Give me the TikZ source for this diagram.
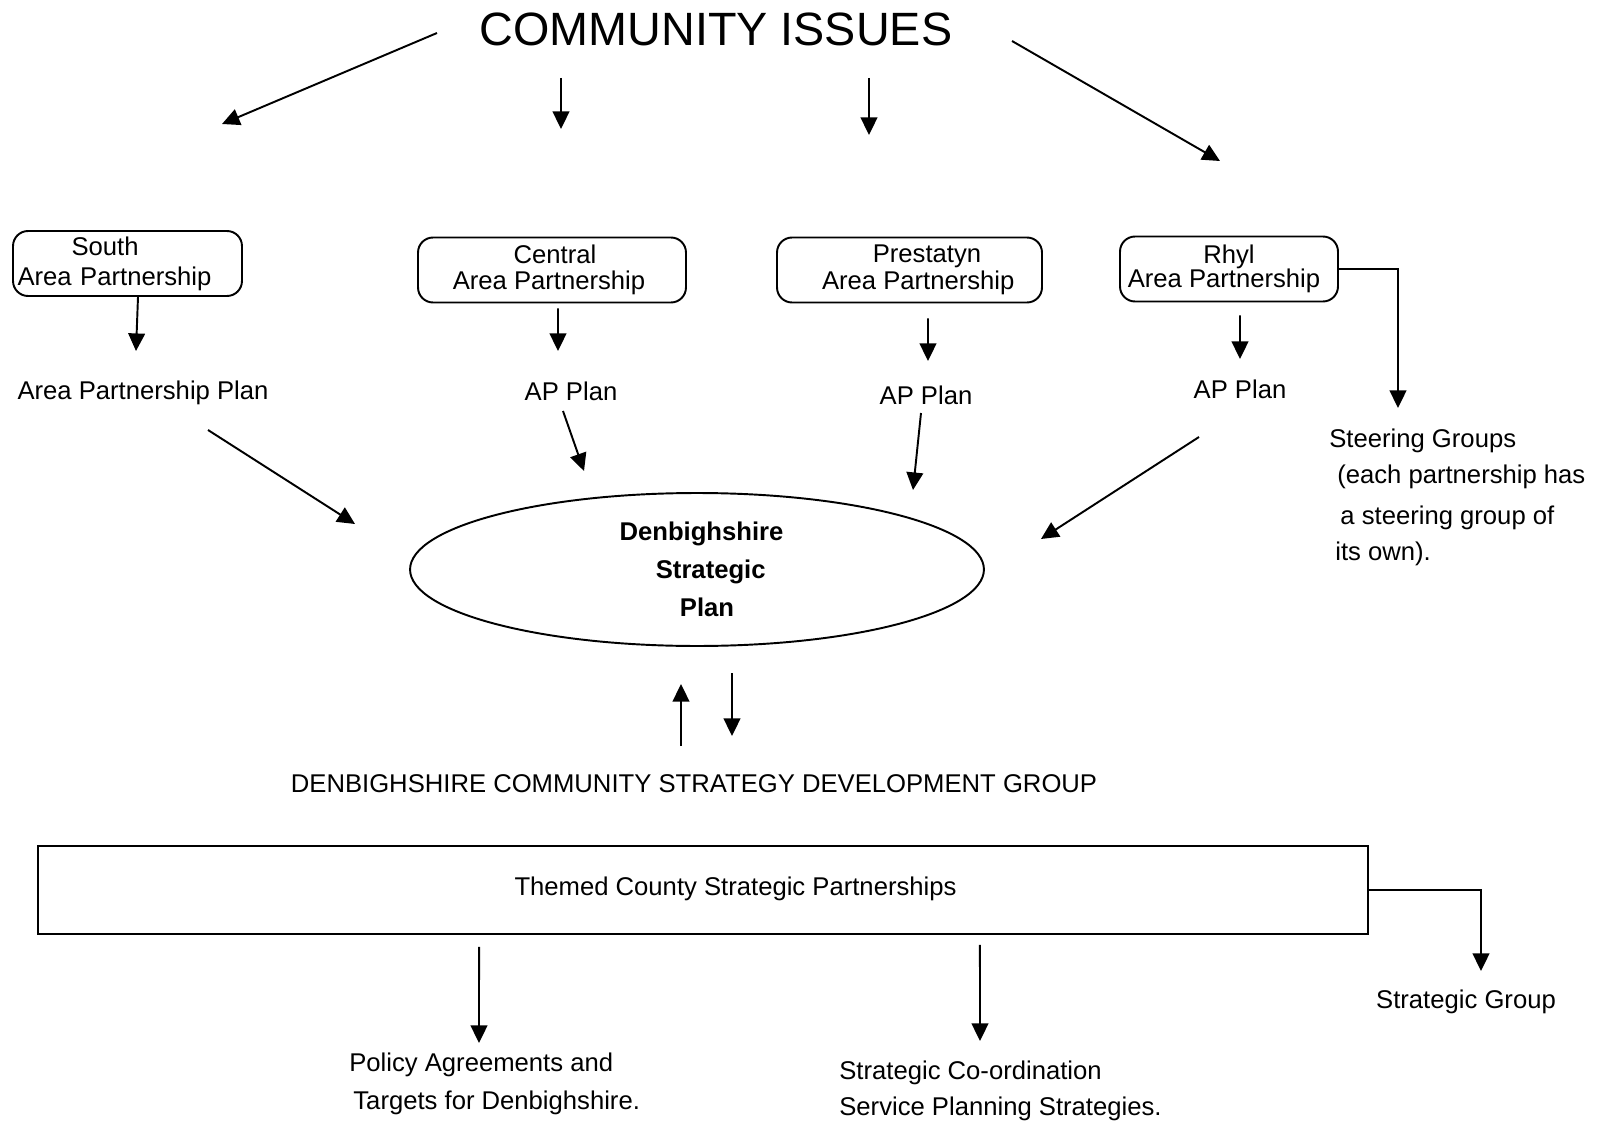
\documentclass[tikz,border=0pt]{standalone}
\usepackage{fontspec}
\setmainfont{Liberation Sans}
\usetikzlibrary{arrows.meta, shapes.geometric}

\begin{document}
\begin{tikzpicture}[
    x=0.02cm, y=-0.02cm,
    txt/.style={font=\fontsize{14.6}{16.8}\selectfont, inner sep=0pt},
    areabox/.style={rectangle, rounded corners=0.3cm, draw, line width=1.1pt, minimum height=1.3cm, align=center, font=\fontsize{14.6}{15.2}\selectfont, inner sep=0pt},
    arr/.style={-{Triangle[length=10pt, width=9.5pt]}, line width=1.1pt},
]
\useasboundingbox (0,0) rectangle (1600,1122);

% --- title ---
\node[inner sep=0pt, font=\fontsize{26.6}{30}\selectfont] (issues) at (716,29) {COMMUNITY ISSUES};

\coordinate (t1s) at (437,33);   \coordinate (t1e) at (222,124);
\coordinate (t2s) at (561,78);   \coordinate (t2e) at (561,129);
\coordinate (t3s) at (869,78);   \coordinate (t3e) at (869,135);
\coordinate (t4s) at (1012,41);  \coordinate (t4e) at (1220,161);
\draw[arr] (t1s) -- (t1e);
\draw[arr] (t2s) -- (t2e);
\draw[arr] (t3s) -- (t3e);
\draw[arr] (t4s) -- (t4e);

% --- area partnerships ---
\node[areabox, minimum width=4.58cm, text width=4.4cm, align=left, font=\fontsize{14.6}{17}\selectfont] (south) at (127.5,263.5) {\hspace*{1.08cm}South\\Area Partnership};
\node[areabox, minimum width=5.36cm] (central) at (552,270) {\hspace*{0.12cm}Central\\\hspace*{-0.12cm}Area Partnership};
\node[areabox, minimum width=5.3cm] (prestatyn) at (909.5,270) {\hspace*{0.7cm}Prestatyn\\\hspace*{0.35cm}Area Partnership};
\node[areabox, minimum width=4.36cm, font=\fontsize{14.6}{14}\selectfont] (rhyl) at (1229,269) {Rhyl\\\hspace*{-0.2cm}Area Partnership};

% --- plans ---
\node[txt] (southplan) at (143,393) {Area Partnership Plan};
\node[txt] (centralplan) at (571,391) {AP Plan};
\node[txt] (prestatynplan) at (926,395) {AP Plan};
\node[txt] (rhylplan) at (1240,389) {AP Plan};

\coordinate (southtip) at (136,351);
\coordinate (centraltip) at (558,351);
\coordinate (prestatyntip) at (928,361);
\coordinate (rhyltip) at (1240,359);
\draw[arr] ([xshift=0.21cm]south.south) -- (southtip);
\draw[arr] ([xshift=0.12cm, yshift=-0.1cm]central.south) -- (centraltip);
\draw[arr] ([xshift=0.37cm, yshift=-0.3cm]prestatyn.south) -- (prestatyntip);
\draw[arr] ([xshift=0.22cm, yshift=-0.26cm]rhyl.south) -- (rhyltip);

% --- steering groups ---
\node[txt, anchor=north west, align=left, font=\fontsize{14.6}{20.5}\selectfont] (steering) at (1329,429)
  {Steering Groups\\\hspace*{4.5pt}(each partnership has\\[2.8pt]\hspace*{6.3pt}a steering group of\\\hspace*{3.4pt}its own).};
\coordinate (steertip) at (1398,408);
\draw[arr] (rhyl.east) -| (steertip);

% --- strategic plan ---
\node[ellipse, draw, line width=1.1pt, minimum width=11.48cm, minimum height=3.06cm, align=center,
      font=\bfseries\fontsize{14.6}{21.6}\selectfont] (plan) at (697,569.5)
  {\hspace*{0.18cm}Denbighshire\\\hspace*{0.55cm}Strategic\\\hspace*{0.4cm}Plan};

\coordinate (sp1) at (208,430);  \coordinate (sp2) at (355,524);
\coordinate (cp1) at (563,411);  \coordinate (cp2) at (584,471);
\coordinate (pp1) at (921,413);  \coordinate (pp2) at (913,490);
\coordinate (rp1) at (1199,437); \coordinate (rp2) at (1041,539);
\draw[arr] (sp1) -- (sp2);
\draw[arr] (cp1) -- (cp2);
\draw[arr] (pp1) -- (pp2);
\draw[arr] (rp1) -- (rp2);

% --- development group ---
\node[txt] (devgroup) at (694,784) {DENBIGHSHIRE COMMUNITY STRATEGY DEVELOPMENT GROUP};
\coordinate (upfoot) at (681,746);   \coordinate (uptip) at (681,684);
\coordinate (downtop) at (732,673);  \coordinate (downtip) at (732,736);
\draw[arr] (upfoot) -- (uptip);
\draw[arr] (downtop) -- (downtip);

% --- themed partnerships ---
\node[rectangle, draw, line width=1.1pt, minimum width=26.6cm, minimum height=1.76cm,
      font=\fontsize{14.6}{16.8}\selectfont] (themed) at (703,890) {\hspace*{1.3cm}\raisebox{0.16cm}{Themed County Strategic Partnerships}};

\node[txt] (stratgroup) at (1466,1002) {Strategic Group};
\coordinate (stratgtip) at (1481,971);
\draw[arr] (themed.east) -| (stratgtip);

\node[txt, anchor=north west, align=left, font=\fontsize{14.6}{21.6}\selectfont] (policy) at (349,1053)
  {Policy Agreements and\\\hspace*{2.3pt}Targets for Denbighshire.};
\node[txt, anchor=north west, align=left, font=\fontsize{14.6}{20.5}\selectfont] (coord) at (839,1061)
  {Strategic Co-ordination\\Service Planning Strategies.};

\coordinate (policytip) at (479,1043);
\coordinate (coordtip) at (980,1041);
\draw[arr] ([xshift=-4.48cm, yshift=-0.24cm]themed.south) -- (policytip);
\draw[arr] ([xshift=5.54cm, yshift=-0.2cm]themed.south) -- (coordtip);

\end{tikzpicture}
\end{document}
